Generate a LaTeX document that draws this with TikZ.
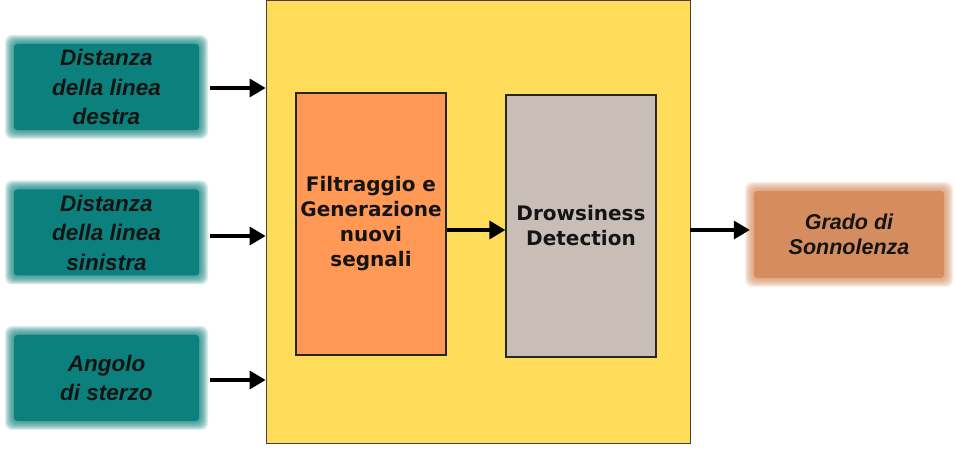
\documentclass[tikz,border=0pt]{standalone}
\usepackage{fontspec}
\newfontfamily\libsans{Liberation Sans}
\newfontfamily\dvsans{DejaVu Sans}
\usetikzlibrary{arrows.meta}
\definecolor{tealbox}{RGB}{12,128,124}
\definecolor{yellowbox}{RGB}{255,220,90}
\definecolor{orangebox}{RGB}{255,153,85}
\definecolor{graybox}{RGB}{200,190,183}
\definecolor{outbox}{RGB}{213,141,95}
\definecolor{txt}{RGB}{20,20,20}
\newcommand\softhalo[5]{%
  \foreach \e in {9,8,...,1} {%
    \fill[#5, opacity=0.14, rounded corners=7pt]
      ({#1-#3/2+4-\e},{#2-#4/2+4-\e}) rectangle ({#1+#3/2-4+\e},{#2+#4/2-4+\e});
  }}
\tikzset{
  inbox/.style={fill=tealbox, rounded corners=3pt,
    minimum width=185pt, minimum height=86pt, align=center, text=txt,
    font=\libsans\bfseries\itshape\fontsize{22.5}{29.5}\selectfont, inner sep=0pt},
  resbox/.style={fill=outbox, rounded corners=3pt,
    minimum width=190pt, minimum height=87pt, align=center, text=txt,
    font=\libsans\bfseries\itshape\fontsize{21.5}{25}\selectfont, inner sep=0pt},
  procbox/.style={draw=black!85, line width=1.2pt, minimum width=150pt, minimum height=262pt,
    align=center, text=txt, font=\dvsans\bfseries\fontsize{20}{25}\selectfont, inner sep=0pt},
  arr/.style={-{Triangle[length=16pt,width=18pt]}, line width=3.4pt, black},
}
\begin{document}
\begin{tikzpicture}[x=1pt,y=1pt]
\useasboundingbox (0,0) rectangle (956,473);
% main yellow block
\node[fill=yellowbox, draw=black!75, line width=0.8pt, minimum width=424pt, minimum height=443pt, inner sep=0pt] (main) at (478,251.5) {};
% soft edges
\softhalo{106.5}{386}{193}{94}{tealbox}
\softhalo{106.5}{240.5}{193}{94}{tealbox}
\softhalo{106.5}{95}{193}{94}{tealbox}
\softhalo{849}{238.5}{198}{95}{outbox}
% inputs
\node[inbox] (in1) at (106.5,386) {Distanza\\della linea\\destra};
\node[inbox] (in2) at (106.5,240.5) {Distanza\\della linea\\sinistra};
\node[inbox] (in3) at (106.5,95) {Angolo\\di sterzo};
% processing blocks
\node[procbox, fill=orangebox] (filt) at (371,249) {Filtraggio e\\Generazione\\nuovi\\segnali};
\node[procbox, fill=graybox] (drow) at (581,247) {Drowsiness\\Detection};
% output
\node[resbox] (out) at (849,238.5) {Grado di\\Sonnolenza};
% arrows
\draw[arr, shorten <=11pt] ([yshift=-1pt]in1.east) -- ([yshift=-1pt]in1.east -| main.west);
\draw[arr, shorten <=11pt] ([yshift=-3.5pt]in2.east) -- ([yshift=-3.5pt]in2.east -| main.west);
\draw[arr, shorten <=11pt] ([yshift=-2pt]in3.east) -- ([yshift=-2pt]in3.east -| main.west);
\draw[arr] ([yshift=-6pt]filt.east) -- ([yshift=-6pt]filt.east -| drow.west);
\draw[arr, shorten >=4pt] ([yshift=4.5pt]out.west -| main.east) -- ([yshift=4.5pt]out.west);
\end{tikzpicture}
\end{document}
